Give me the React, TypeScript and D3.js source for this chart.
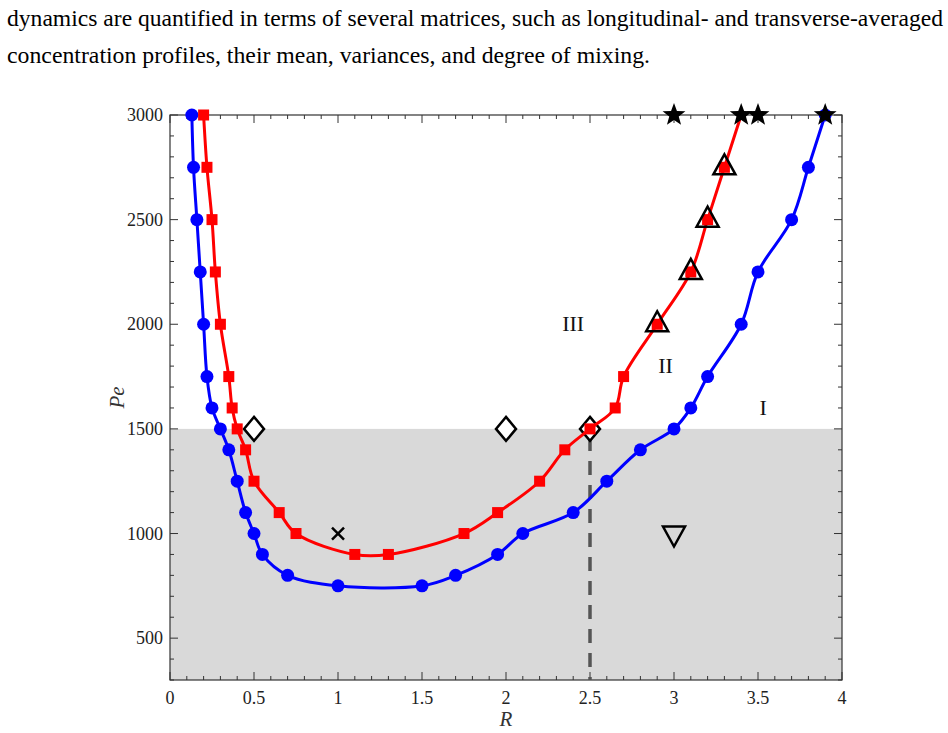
import React from "react";
import * as d3 from "d3";

// Boundary I (blue circles)
const blueR = [0.13, 0.14, 0.16, 0.18, 0.2, 0.22, 0.25, 0.3, 0.35, 0.4, 0.45, 0.5, 0.55, 0.7, 1.0, 1.5, 1.7, 1.95, 2.1, 2.4, 2.6, 2.8, 3.0, 3.1, 3.2, 3.4, 3.5, 3.7, 3.8, 3.9];
const bluePe = [3000, 2750, 2500, 2250, 2000, 1750, 1600, 1500, 1400, 1250, 1100, 1000, 900, 800, 750, 750, 800, 900, 1000, 1100, 1250, 1400, 1500, 1600, 1750, 2000, 2250, 2500, 2750, 3000];

// Boundary II (red squares, then triangles, ending at a star)
const redR = [0.2, 0.22, 0.25, 0.27, 0.3, 0.35, 0.37, 0.4, 0.45, 0.5, 0.65, 0.75, 1.1, 1.3, 1.75, 1.95, 2.2, 2.35, 2.5, 2.65, 2.7, 2.9, 3.1, 3.2, 3.3, 3.4];
const redPe = [3000, 2750, 2500, 2250, 2000, 1750, 1600, 1500, 1400, 1250, 1100, 1000, 900, 900, 1000, 1100, 1250, 1400, 1500, 1600, 1750, 2000, 2250, 2500, 2750, 3000];
const redSquareCount = 21;
const redTriangleCount = 4;

// Extra case markers
const starR = [3.0, 3.4, 3.5, 3.9];
const starPe = [3000, 3000, 3000, 3000];
const diamondR = [0.5, 2.0, 2.5];
const diamondPe = [1500, 1500, 1500];
const crossPt = { r: 1.0, pe: 1000 };
const downTriPt = { r: 3.0, pe: 1000 };

const regionLabels = [
  { text: "III", r: 2.4, pe: 2000 },
  { text: "II", r: 2.95, pe: 1800 },
  { text: "I", r: 3.53, pe: 1600 },
];

const xTicks = [0, 0.5, 1, 1.5, 2, 2.5, 3, 3.5, 4];
const yTicks = [500, 1000, 1500, 2000, 2500, 3000];
const shadeTop = 1500;
const criticalR = 2.5;

const paragraph = [
  "dynamics are quantified in terms of several matrices, such as longitudinal- and transverse-averaged",
  "concentration profiles, their mean, variances, and degree of mixing.",
];
const paragraphWidths = [936, 643];

const serif = "'Liberation Serif', 'Times New Roman', serif";

function starPath(cx: number, cy: number, ro: number, ri: number) {
  const pts: string[] = [];
  for (let i = 0; i < 10; i++) {
    const a = -Math.PI / 2 + (i * Math.PI) / 5;
    const rr = i % 2 === 0 ? ro : ri;
    pts.push(`${cx + rr * Math.cos(a)},${cy + rr * Math.sin(a)}`);
  }
  return "M" + pts.join("L") + "Z";
}

export default function App() {
  const width = 948;
  const height = 733;
  const x = d3.scaleLinear().domain([0, 4]).range([170, 842]);
  const y = d3.scaleLinear().domain([300, 3000]).range([680, 115]);
  const [x0, x1] = x.range();
  const [yb, yt] = y.range();

  const blue = blueR.map((r, i) => [r, bluePe[i]] as [number, number]);
  const red = redR.map((r, i) => [r, redPe[i]] as [number, number]);

  const line = d3
    .line<[number, number]>()
    .x((d) => x(d[0]))
    .y((d) => y(d[1]))
    .curve(d3.curveCatmullRom.alpha(0.5));

  const xMinor = d3.range(0, 4.0001, 0.1);
  const yMinor = d3.range(300, 3000.1, 100);
  const tickColor = "#333";

  return (
    <svg width={width} height={height} style={{ position: "absolute", left: 0, top: 0, background: "#fff" }}>
      {paragraph.map((t, i) => (
        <text
          key={i}
          x={7}
          y={26 + i * 37}
          fontFamily={serif}
          fontSize={23}
          fill="#000"
          textLength={paragraphWidths[i]}
          lengthAdjust="spacingAndGlyphs"
        >
          {t}
        </text>
      ))}

      {/* shaded region below Pe = 1500 */}
      <rect x={x0} y={y(shadeTop)} width={x1 - x0} height={yb - y(shadeTop)} fill="#d9d9d9" />

      {/* frame and ticks */}
      <rect x={x0} y={yt} width={x1 - x0} height={yb - yt} fill="none" stroke={tickColor} strokeWidth={1.2} />
      {xMinor.map((v, i) => {
        const major = Math.abs(v * 2 - Math.round(v * 2)) < 1e-6;
        const len = major ? 8 : 4;
        return (
          <g key={"xm" + i} stroke={tickColor} strokeWidth={1}>
            <line x1={x(v)} x2={x(v)} y1={yb} y2={yb - len} />
            <line x1={x(v)} x2={x(v)} y1={yt} y2={yt + len} />
          </g>
        );
      })}
      {yMinor.map((v, i) => {
        const major = Math.round(v) % 500 === 0;
        const len = major ? 8 : 4;
        return (
          <g key={"ym" + i} stroke={tickColor} strokeWidth={1}>
            <line x1={x0} x2={x0 + len} y1={y(v)} y2={y(v)} />
            <line x1={x1} x2={x1 - len} y1={y(v)} y2={y(v)} />
          </g>
        );
      })}
      {xTicks.map((v) => (
        <text key={"xl" + v} x={x(v)} y={yb + 24} textAnchor="middle" fontFamily={serif} fontSize={18} fill="#222">
          {String(v)}
        </text>
      ))}
      {yTicks.map((v) => (
        <text key={"yl" + v} x={x0 - 7} y={y(v) + 6} textAnchor="end" fontFamily={serif} fontSize={18} fill="#222">
          {v}
        </text>
      ))}
      <text x={(x0 + x1) / 2} y={726} textAnchor="middle" fontFamily={serif} fontStyle="italic" fontSize={21} fill="#333">
        R
      </text>
      <text
        transform={`translate(124, ${(yt + yb) / 2}) rotate(-90)`}
        textAnchor="middle"
        fontFamily={serif}
        fontStyle="italic"
        fontSize={21}
        fill="#333"
      >
        Pe
      </text>

      {/* critical R */}
      <line
        x1={x(criticalR)}
        x2={x(criticalR)}
        y1={y(shadeTop) + 8}
        y2={yb}
        stroke="#555"
        strokeWidth={3.5}
        strokeDasharray="14 10"
      />

      {/* open diamonds */}
      {diamondR.map((r, i) => {
        const cx = x(r);
        const cy = y(diamondPe[i]);
        return (
          <path
            key={"d" + i}
            d={`M${cx},${cy - 12}L${cx + 10},${cy}L${cx},${cy + 12}L${cx - 10},${cy}Z`}
            fill="#fff"
            stroke="#000"
            strokeWidth={2.5}
          />
        );
      })}

      {/* boundary curves */}
      <path d={line(blue) || ""} fill="none" stroke="#0000ff" strokeWidth={3} />
      <path d={line(red) || ""} fill="none" stroke="#ff0000" strokeWidth={3} />

      {blue.map((d, i) => (
        <circle key={"b" + i} cx={x(d[0])} cy={y(d[1])} r={6.5} fill="#0000ff" />
      ))}
      {red.slice(0, redSquareCount + redTriangleCount).map((d, i) => (
        <rect key={"s" + i} x={x(d[0]) - 5.5} y={y(d[1]) - 5.5} width={11} height={11} fill="#ff0000" />
      ))}
      {red.slice(redSquareCount, redSquareCount + redTriangleCount).map((d, i) => {
        const cx = x(d[0]);
        const cy = y(d[1]);
        return (
          <path
            key={"t" + i}
            d={`M${cx},${cy - 13}L${cx + 11},${cy + 7}L${cx - 11},${cy + 7}Z`}
            fill="none"
            stroke="#000"
            strokeWidth={2.5}
          />
        );
      })}

      {/* stars */}
      {starR.map((r, i) => (
        <path key={"st" + i} d={starPath(x(r), y(starPe[i]), 12, 5)} fill="#000" />
      ))}

      {/* cross */}
      {(() => {
        const cx = x(crossPt.r);
        const cy = y(crossPt.pe);
        const s = 6;
        return (
          <g stroke="#000" strokeWidth={2.5}>
            <line x1={cx - s} y1={cy - s} x2={cx + s} y2={cy + s} />
            <line x1={cx - s} y1={cy + s} x2={cx + s} y2={cy - s} />
          </g>
        );
      })()}

      {/* open down triangle */}
      {(() => {
        const cx = x(downTriPt.r);
        const cy = y(downTriPt.pe);
        return (
          <path
            d={`M${cx - 11},${cy - 7}L${cx + 11},${cy - 7}L${cx},${cy + 13}Z`}
            fill="none"
            stroke="#000"
            strokeWidth={2.5}
          />
        );
      })()}

      {regionLabels.map((l) => (
        <text key={l.text} x={x(l.r)} y={y(l.pe) + 7} textAnchor="middle" fontFamily={serif} fontSize={22} fill="#111">
          {l.text}
        </text>
      ))}
    </svg>
  );
}
